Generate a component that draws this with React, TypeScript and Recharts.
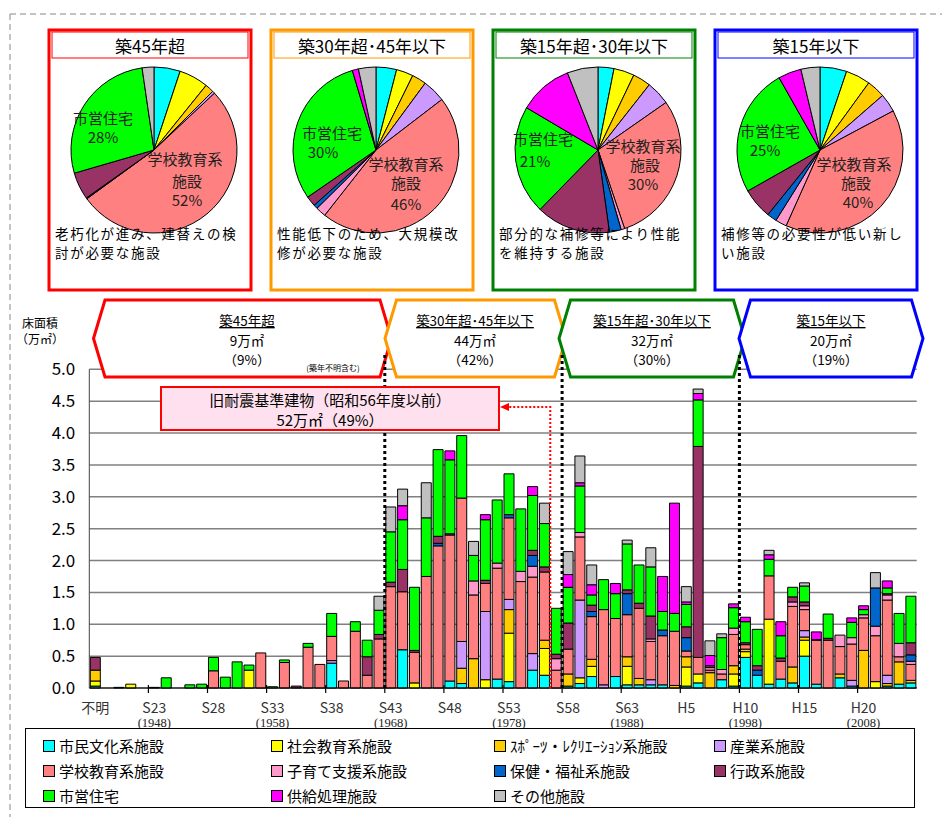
import React from 'react'
import { BarChart, Bar, XAxis, YAxis, CartesianGrid, Legend, PieChart, Pie, Cell } from 'recharts'

// 年度区分（不明 + 昭和19年〜平成24年）
const categories = [
  '不明',
  'S19', 'S20', 'S21', 'S22', 'S23', 'S24', 'S25', 'S26', 'S27', 'S28',
  'S29', 'S30', 'S31', 'S32', 'S33', 'S34', 'S35', 'S36', 'S37', 'S38',
  'S39', 'S40', 'S41', 'S42', 'S43', 'S44', 'S45', 'S46', 'S47', 'S48',
  'S49', 'S50', 'S51', 'S52', 'S53', 'S54', 'S55', 'S56', 'S57', 'S58',
  'S59', 'S60', 'S61', 'S62', 'S63',
  'H1', 'H2', 'H3', 'H4', 'H5', 'H6', 'H7', 'H8', 'H9', 'H10',
  'H11', 'H12', 'H13', 'H14', 'H15', 'H16', 'H17', 'H18', 'H19', 'H20',
  'H21', 'H22', 'H23', 'H24',
]

// 表示する軸ラベル（下段は西暦）
const tickLabels: Record<string, string> = {
  '不明': '', S23: '(1948)', S28: '', S33: '(1958)', S38: '', S43: '(1968)', S48: '',
  S53: '(1978)', S58: '', S63: '(1988)', H5: '', H10: '(1998)', H15: '', H20: '(2008)',
}

const yTicks = [0, 0.5, 1, 1.5, 2, 2.5, 3, 3.5, 4, 4.5, 5]

// 延床面積（万㎡）
const shiminBunka = [
  0.03, 0, 0, 0, 0, 0, 0, 0, 0, 0,
  0, 0, 0, 0, 0, 0, 0, 0, 0, 0,
  0.39, 0, 0, 0, 0, 0, 0.6, 0, 0, 0,
  0.11, 0.07, 0, 0, 0.14, 0.1, 0, 0.28, 0.2, 0,
  0.03, 0.07, 0.18, 0, 0.18, 0.05, 0.05, 0.05, 0.05, 0,
  0.03, 0.08, 0, 0.13, 0.03, 0.48, 0.2, 0.06, 0.14, 0.08,
  0.5, 0.06, 0, 0.16, 0.03, 0, 0, 0.03, 0.06, 0.08,
]
const shakaiKyoiku = [
  0.08, 0, 0, 0.06, 0, 0, 0, 0, 0, 0,
  0, 0, 0, 0.28, 0, 0, 0, 0, 0, 0,
  0, 0, 0, 0, 0, 0, 0, 0.08, 0, 0,
  0, 0, 0, 0.13, 0, 0.76, 0, 0, 0.42, 0,
  0, 0.09, 0.16, 0, 0, 0.29, 0, 0, 0, 0,
  0.3, 0.14, 0, 0, 0.19, 0.09, 0, 1.02, 0, 0,
  0.25, 0, 0, 0, 0, 0, 0.1, 0, 0, 0,
]
const sports = [
  0.17, 0, 0, 0, 0, 0, 0, 0, 0, 0,
  0, 0, 0, 0, 0, 0, 0, 0, 0, 0,
  0, 0, 0, 0, 0, 0, 0, 0, 0, 0,
  0, 0.24, 0.46, 0, 0, 0.37, 0, 0, 0.13, 0,
  0.19, 0, 0.11, 0, 0, 0.15, 0.1, 0, 0, 0.04,
  0.16, 0, 0.24, 0, 0.13, 0.04, 0, 0, 0, 0.25,
  0.05, 0, 0, 0.06, 0, 0.59, 0, 0.04, 0.35, 0.04,
]
const sangyo = [
  0, 0, 0, 0, 0, 0, 0, 0, 0, 0,
  0, 0, 0, 0, 0, 0, 0, 0, 0, 0,
  0.04, 0, 0, 0, 0, 0, 0, 0, 0, 0,
  0, 0.42, 0, 1.07, 0, 0.16, 0, 0.26, 0, 0,
  0, 1.22, 0, 0.05, 0, 0, 0, 0.08, 0, 0,
  0, 0, 0, 0, 0, 0, 0, 0, 0, 0,
  0.1, 0, 0, 0, 0.09, 0, 0, 0.13, 0, 0,
]
const gakko = [
  0, 0, 0, 0, 0, 0, 0, 0, 0, 0,
  0.27, 0, 0, 0, 0.55, 0, 0.4, 0, 0.64, 0.37,
  0.38, 0.11, 0.89, 0.2, 0.77, 1.59, 0.91, 0.48, 1.75, 2.23,
  2.29, 2.25, 1.0, 0.44, 1.74, 1.28, 1.67, 1.2, 1.07, 0.28,
  0.39, 0.99, 0.67, 1.18, 0.91, 0.66, 1.1, 0.6, 0.77, 0.85,
  0.09, 0.26, 0.04, 0.09, 0.49, 0.07, 0, 0.68, 0.28, 0.95,
  0.33, 0.69, 0.75, 0.43, 0.57, 0.51, 0.72, 1.18, 0.08, 0.25,
]
const kosodate = [
  0, 0, 0, 0, 0, 0, 0, 0, 0, 0,
  0, 0, 0, 0, 0, 0, 0, 0, 0, 0,
  0, 0, 0, 0, 0, 0, 0, 0, 0, 0,
  0, 0, 0.22, 0, 0.08, 0, 0.16, 0.17, 0, 0.18,
  0, 0.07, 0, 0, 0, 0, 0, 0.04, 0, 0,
  0, 0, 0.04, 0.07, 0.1, 0, 0, 0, 0, 0.07,
  0.06, 0, 0, 0.18, 0.1, 0.05, 0.15, 0.08, 0.21, 0.05,
]
const hokenFukushi = [
  0, 0, 0, 0, 0, 0, 0, 0, 0, 0,
  0, 0, 0, 0, 0, 0, 0, 0, 0, 0,
  0, 0, 0, 0, 0, 0, 0, 0, 0, 0.04,
  0, 0, 0, 0, 0, 0.05, 0, 0.17, 0, 0,
  0, 0, 0.08, 0, 0, 0.33, 0, 0, 0.09, 0,
  0.21, 0, 0, 0, 0, 0, 0.08, 0, 0, 0,
  0, 0, 0, 0, 0, 0, 0.6, 0, 0, 0.1,
]
const gyosei = [
  0.2, 0, 0, 0, 0, 0, 0, 0, 0, 0,
  0, 0, 0, 0, 0, 0, 0, 0.03, 0, 0,
  0, 0, 0, 0.29, 0.07, 0.07, 0.35, 0.03, 0, 0.11,
  0.02, 0, 0, 0.05, 0, 0, 0, 0.08, 0.08, 0.07,
  0.41, 0, 0.1, 0, 0, 0.06, 0.08, 0.36, 0, 0,
  0.17, 3.31, 0.03, 0, 0, 0.03, 0.07, 0, 0.05, 0.08,
  0.06, 0.01, 0.03, 0, 0, 0, 0, 0.02, 0, 0.19,
]
const shiei = [
  0, 0, 0.01, 0, 0, 0.01, 0.16, 0, 0.05, 0.06,
  0.21, 0.17, 0.41, 0.08, 0, 0.02, 0.04, 0, 0.06, 0,
  0.36, 0, 0.15, 0.26, 0.38, 0.79, 0.78, 0.99, 0.92, 1.36,
  1.16, 0.98, 0.4, 0.95, 0.99, 0.64, 0.98, 0.86, 0.68, 0.72,
  0.56, 0.73, 0.16, 0.47, 0.39, 0.72, 0.6, 0.77, 0.29, 0.28,
  0.35, 0.73, 0, 0.5, 0.32, 0.33, 0.57, 0.26, 0.35, 0.15,
  0.25, 0, 0.38, 0, 0.24, 0.08, 0, 0.09, 0.47, 0.73,
]
const kyokyu = [
  0, 0, 0, 0, 0, 0, 0, 0, 0, 0,
  0, 0, 0, 0, 0, 0, 0, 0, 0, 0,
  0, 0, 0, 0, 0, 0, 0.22, 0, 0, 0,
  0.14, 0, 0, 0.08, 0, 0, 0, 0.14, 0, 0,
  0.2, 0.05, 0.16, 0, 0.16, 0, 0, 0, 0.55, 1.73,
  0.04, 0.1, 0.16, 0, 0.06, 0.07, 0, 0.07, 0.22, 0,
  0, 0.12, 0, 0, 0.07, 0.06, 0, 0.11, 0, 0,
]
const sonota = [
  0, 0, 0, 0, 0, 0, 0, 0, 0, 0,
  0, 0, 0, 0, 0, 0, 0, 0, 0, 0,
  0, 0, 0, 0, 0.22, 0.39, 0.26, 0, 0.55, 0,
  0, 0, 0.22, 0, 0, 0, 0, 0, 0.32, 0,
  0.36, 0.42, 0.31, 0, 0, 0.06, 0, 0.3, 0, 0,
  0.24, 0.07, 0.23, 0.06, 0, 0, 0, 0.07, 0, 0,
  0.05, 0, 0, 0, 0, 0, 0.24, 0, 0, 0,
]

const seriesNames = [
  '市民文化系施設', '社会教育系施設', 'ｽﾎﾟｰﾂ・ﾚｸﾘｴｰｼｮﾝ系施設', '産業系施設',
  '学校教育系施設', '子育て支援系施設', '保健・福祉系施設', '行政系施設',
  '市営住宅', '供給処理施設', 'その他施設',
]
const seriesColors = [
  '#00FFFF', '#FFFF00', '#FFCC00', '#CC99FF', '#FF8080', '#FF99CC',
  '#0066CC', '#993366', '#00FF00', '#FF00FF', '#C0C0C0',
]
const seriesValues = [
  shiminBunka, shakaiKyoiku, sports, sangyo, gakko, kosodate,
  hokenFukushi, gyosei, shiei, kyokyu, sonota,
]

// 築年別の構成比（%）
const pieOver45 = [5.1, 5.7, 1.7, 0.5, 52, 0, 0.2, 5.3, 27.2, 0, 2.3]
const pie30to45 = [4, 3.3, 2.8, 4.5, 46, 2, 0.8, 2, 30, 1.2, 3.4]
const pie15to30 = [3.1, 4, 3.5, 4.7, 29.5, 0.7, 2.3, 14.5, 21.2, 10.5, 6]
const pieUnder15 = [5.2, 4.8, 3.6, 3.6, 39.5, 2.2, 1.9, 6, 25, 4.5, 3.7]

const FONT = '"Noto Sans CJK JP", "Noto Sans", sans-serif'
const PLOT_LEFT = 89.3
const PLOT_RIGHT = 916.7
const PLOT_TOP = 369.3
const PLOT_BOTTOM = 688
const BAND = (PLOT_RIGHT - PLOT_LEFT) / categories.length

const chartData = categories.map((name, i) => {
  const row: Record<string, string | number> = { name }
  seriesValues.forEach((arr, k) => {
    row[`s${k}`] = arr[i]
  })
  return row
})

const XTick = (props: any) => {
  const { x, y, payload } = props
  const label = payload.value as string
  if (!(label in tickLabels)) return null
  const sub = tickLabels[label]
  return (
    <g>
      {label !== '不明' && (
        <line x1={x - BAND / 2} x2={x - BAND / 2} y1={y - 3} y2={y + 5} stroke="#000" strokeWidth={1.2} />
      )}
      <text x={x} y={y + 19} textAnchor="middle" dominantBaseline="central" fontSize={14} fill="#333" fontFamily={FONT}>
        {label}
      </text>
      {sub && (
        <text x={x} y={y + 35} textAnchor="middle" dominantBaseline="central" fontSize={12.5} fill="#222" fontFamily='"Liberation Serif", serif'>
          {sub}
        </text>
      )}
    </g>
  )
}

const LegendGrid = () => (
  <div
    style={{
      border: '1px solid #000',
      background: '#fff',
      height: 80,
      boxSizing: 'border-box',
      position: 'relative',
      fontFamily: FONT,
      fontSize: 15,
      color: '#000',
    }}
  >
    {seriesNames.map((name, i) => {
      const col = i < 8 ? i % 4 : i - 8
      const row = i < 8 ? Math.floor(i / 4) : 2
      const colX = [17, 245, 468, 688][col]
      return (
        <div
          key={name}
          style={{ position: 'absolute', left: colX, top: 8 + row * 25, display: 'flex', alignItems: 'center', whiteSpace: 'nowrap', lineHeight: '18px' }}
        >
          <span style={{ display: 'inline-block', width: 10, height: 10, background: seriesColors[i], border: '1px solid #000', marginRight: 4 }} />
          {name}
        </div>
      )
    })}
  </div>
)

interface PanelSpec {
  x: number
  color: string
  title: string
  desc: string[]
  values: number[]
  labels: { text: string; x: number; y: number }[]
}

const panels: PanelSpec[] = [
  {
    x: 49, color: '#FF0000', title: '築45年超', desc: ['老朽化が進み、建替えの検', '討が必要な施設'], values: pieOver45,
    labels: [
      { text: '市営住宅', x: 103, y: 117 }, { text: '28%', x: 103, y: 136 },
      { text: '学校教育系', x: 185, y: 158 }, { text: '施設', x: 187, y: 180 }, { text: '52%', x: 187, y: 199 },
    ],
  },
  {
    x: 271, color: '#FF9900', title: '築30年超･45年以下', desc: ['性能低下のため、大規模改', '修が必要な施設'], values: pie30to45,
    labels: [
      { text: '市営住宅', x: 332, y: 132 }, { text: '30%', x: 323, y: 151 },
      { text: '学校教育系', x: 406, y: 163 }, { text: '施設', x: 406, y: 182 }, { text: '46%', x: 406, y: 203 },
    ],
  },
  {
    x: 493, color: '#008000', title: '築15年超･30年以下', desc: ['部分的な補修等により性能', 'を維持する施設'], values: pie15to30,
    labels: [
      { text: '市営住宅', x: 543, y: 138 }, { text: '21%', x: 535, y: 160 },
      { text: '学校教育系', x: 643, y: 145 }, { text: '施設', x: 645, y: 164 }, { text: '30%', x: 643, y: 183 },
    ],
  },
  {
    x: 715, color: '#0000FF', title: '築15年以下', desc: ['補修等の必要性が低い新し', 'い施設'], values: pieUnder15,
    labels: [
      { text: '市営住宅', x: 770, y: 130 }, { text: '25%', x: 765, y: 149 },
      { text: '学校教育系', x: 854, y: 163 }, { text: '施設', x: 856, y: 182 }, { text: '40%', x: 858, y: 201 },
    ],
  },
]

interface BannerSpec {
  left: number
  right: number
  color: string
  cx: number
  lines: string[]
}

const banners: BannerSpec[] = [
  { left: 93.5, right: 391.5, color: '#FF0000', cx: 247, lines: ['築45年超', '9万㎡', '（9%）'] },
  { left: 385, right: 566, color: '#FF9900', cx: 475, lines: ['築30年超･45年以下', '44万㎡', '（42%）'] },
  { left: 559, right: 745, color: '#008000', cx: 652, lines: ['築15年超･30年以下', '32万㎡', '（30%）'] },
  { left: 739, right: 923, color: '#0000FF', cx: 831, lines: ['築15年以下', '20万㎡', '（19%）'] },
]

const boundaryX = (slot: number) => PLOT_LEFT + slot * BAND

export default function App() {
  const bTop = 300
  const bBot = 377
  const bMid = (bTop + bBot) / 2
  const inset = 11.5
  return (
    <div style={{ position: 'absolute', left: 0, top: 0, width: 942, height: 817, background: '#fff', fontFamily: FONT, overflow: 'hidden' }}>
      <div style={{ position: 'absolute', left: 0, top: 0 }}>
        <BarChart
          width={942}
          height={817}
          data={chartData}
          margin={{ top: PLOT_TOP, right: 942 - PLOT_RIGHT, bottom: 817 - PLOT_BOTTOM - 40, left: PLOT_LEFT - 50 }}
          barSize={10}
        >
          <CartesianGrid vertical={false} stroke="#808080" strokeWidth={1.5} />
          <XAxis
            dataKey="name"
            interval={0}
            tickLine={false}
            tickSize={0}
            tickMargin={0}
            height={40}
            stroke="#000"
            tick={<XTick />}
          />
          <YAxis
            domain={[0, 5]}
            ticks={yTicks}
            width={50}
            tickLine={false}
            tickSize={0}
            tickMargin={14}
            stroke="#444"
            tickFormatter={(v: number) => v.toFixed(1)}
            tick={{ fontSize: 17, fill: '#000', fontFamily: FONT }}
          />
          <YAxis yAxisId="r" orientation="right" width={0} tick={false} tickLine={false} stroke="#808080" />
          {seriesNames.map((name, k) => (
            <Bar
              key={name}
              dataKey={`s${k}`}
              name={name}
              stackId="a"
              fill={seriesColors[k]}
              stroke="#000"
              strokeWidth={1}
              isAnimationActive={false}
            />
          ))}
          <Legend
            layout="vertical"
            align="center"
            verticalAlign="middle"
            wrapperStyle={{ left: 25, top: 728, width: 890, height: 80 }}
            content={() => <LegendGrid />}
          />
        </BarChart>
      </div>

      {panels.map((p) => (
        <div key={p.title} style={{ position: 'absolute', left: p.x, top: 45 }}>
          <PieChart width={200} height={200}>
            <Pie
              data={p.values.map((v, i) => ({ name: seriesNames[i], value: v }))}
              dataKey="value"
              cx={100}
              cy={100}
              outerRadius={83}
              startAngle={90}
              endAngle={-270}
              stroke="#000"
              strokeWidth={1}
              isAnimationActive={false}
            >
              {p.values.map((_, i) => (
                <Cell key={i} fill={seriesColors[i]} />
              ))}
            </Pie>
          </PieChart>
        </div>
      ))}

      <svg width={942} height={817} style={{ position: 'absolute', left: 0, top: 0, pointerEvents: 'none' }} fontFamily={FONT}>
        {/* 外枠（破線） */}
        <line x1={10} y1={14} x2={942} y2={14} stroke="#888" strokeWidth={1} strokeDasharray="6 4" />
        <line x1={10} y1={14} x2={10} y2={817} stroke="#888" strokeWidth={1} strokeDasharray="6 4" />

        {/* 円グラフのパネル */}
        {panels.map((p) => (
          <g key={p.title}>
            <rect x={p.x} y={30} width={202} height={260} fill="none" stroke={p.color} strokeWidth={3} />
            <rect x={p.x + 3} y={32} width={196} height={26} fill="#fff" stroke={p.color} strokeWidth={1} />
            <text x={p.x + 101} y={45.5} textAnchor="middle" dominantBaseline="central" fontSize={17} fill="#000">
              {p.title}
            </text>
            {p.labels.map((l) => (
              <text key={l.text + l.y} x={l.x} y={l.y} textAnchor="middle" dominantBaseline="central" fontSize={15} fill="#222">
                {l.text}
              </text>
            ))}
            {p.desc.map((d, i) => (
              <text key={d} x={p.x + 6} y={233 + i * 19} dominantBaseline="central" fontSize={13.5} fill="#000" letterSpacing={1.7}>
                {d}
              </text>
            ))}
          </g>
        ))}

        {/* 築年区分の矢印 */}
        {banners.map((b) => (
          <g key={b.lines[0]}>
            <polygon
              points={`${b.left},${bMid} ${b.left + inset},${bTop} ${b.right - inset},${bTop} ${b.right},${bMid} ${b.right - inset},${bBot} ${b.left + inset},${bBot}`}
              fill="#fff"
              stroke={b.color}
              strokeWidth={3}
            />
            <text x={b.cx} y={320} textAnchor="middle" dominantBaseline="central" fontSize={13.5} fill="#000" textDecoration="underline">
              {b.lines[0]}
            </text>
            <text x={b.cx} y={339.5} textAnchor="middle" dominantBaseline="central" fontSize={13.5} fill="#000">
              {b.lines[1]}
            </text>
            <text x={b.cx} y={359} textAnchor="middle" dominantBaseline="central" fontSize={13.5} fill="#000">
              {b.lines[2]}
            </text>
          </g>
        ))}
        <text x={333} y={367} textAnchor="middle" dominantBaseline="central" fontSize={8} fill="#000">
          (築年不明含む)
        </text>

        {/* 区分境界の点線 */}
        {[25, 40, 55].map((s) => (
          <line key={s} x1={boundaryX(s)} x2={boundaryX(s)} y1={355} y2={PLOT_BOTTOM} stroke="#000" strokeWidth={3} strokeDasharray="3 3" />
        ))}

        {/* 旧耐震基準 */}
        <polyline
          points={`${boundaryX(39)},${PLOT_BOTTOM} ${boundaryX(39)},407 508,407`}
          fill="none"
          stroke="#FF0000"
          strokeWidth={2}
          strokeDasharray="2 2"
        />
        <polygon points="500,407 509,403 509,411" fill="#FF0000" />
        <rect x={161} y={387} width={338} height={43} fill="#FFE0EE" stroke="#FF0000" strokeWidth={2} />
        <text x={330} y={399} textAnchor="middle" dominantBaseline="central" fontSize={15} fill="#000">
          旧耐震基準建物（昭和56年度以前）
        </text>
        <text x={330} y={419} textAnchor="middle" dominantBaseline="central" fontSize={15} fill="#000">
          52万㎡（49%）
        </text>

        {/* 縦軸タイトル */}
        <text x={40} y={322} textAnchor="middle" dominantBaseline="central" fontSize={12} fill="#000">
          床面積
        </text>
        <text x={40} y={338} textAnchor="middle" dominantBaseline="central" fontSize={12} fill="#000">
          （万㎡）
        </text>
      </svg>
    </div>
  )
}
